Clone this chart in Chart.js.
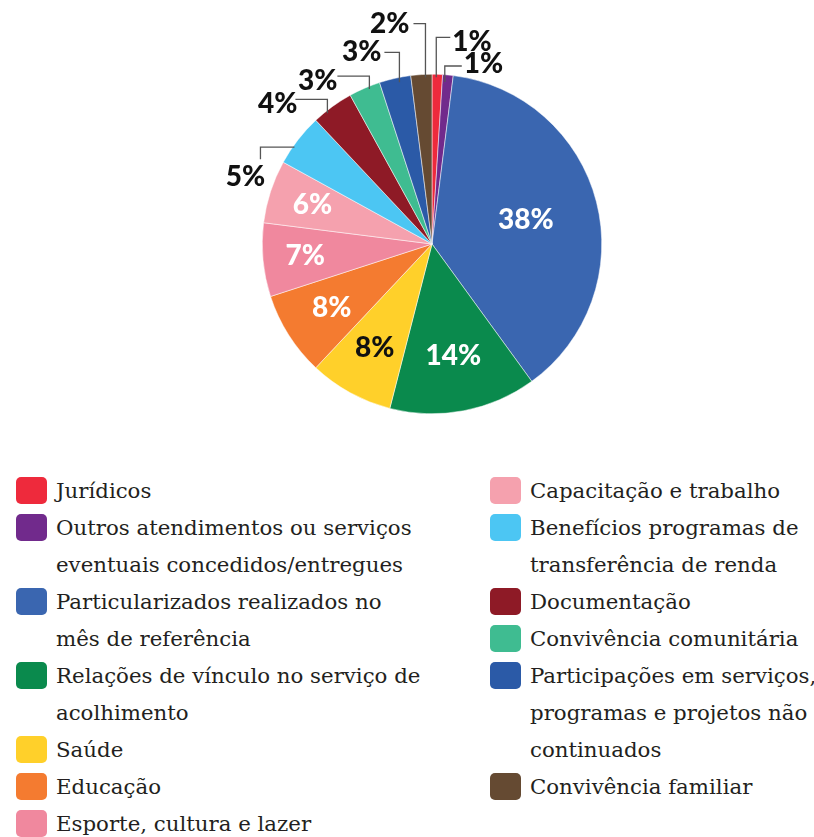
<!DOCTYPE html>
<html>
<head>
<meta charset="utf-8">
<script src="https://cdn.jsdelivr.net/npm/chart.js@4"></script>
<style>
  body { margin: 0; background: #fff; }
  #wrap { position: relative; width: 814px; height: 837px; }
  #box { position: absolute; left: 0; top: 0; width: 814px; height: 440px; }
  .col { position: absolute; top: 472px; font-family: "DejaVu Serif", serif; font-size: 21.3px; color: #231f20; }
  .item { display: flex; align-items: flex-start; }
  .sw { width: 31px; height: 27px; border-radius: 5px; margin-top: 5px; margin-right: 9px; flex: none; }
  .txt { line-height: 37px; white-space: nowrap; }
</style>
</head>
<body>
<div id="wrap">
  <div id="box"><canvas id="pie"></canvas></div>
  <div class="col" id="legLeft" style="left:16px"></div>
  <div class="col" id="legRight" style="left:490px"></div>
</div>
<script>
var labels = [
    ['Jurídicos'],
    ['Outros atendimentos ou serviços', 'eventuais concedidos/entregues'],
    ['Particularizados realizados no', 'mês de referência'],
    ['Relações de vínculo no serviço de', 'acolhimento'],
    ['Saúde'],
    ['Educação'],
    ['Esporte, cultura e lazer'],
    ['Capacitação e trabalho'],
    ['Benefícios programas de', 'transferência de renda'],
    ['Documentação'],
    ['Convivência comunitária'],
    ['Participações em serviços,', 'programas e projetos não', 'continuados'],
    ['Convivência familiar']
];
var values = [1, 1, 38, 14, 8, 8, 7, 6, 5, 4, 3, 3, 2];
var colors = ['#EE2A3C', '#712A8C', '#3A66B0', '#0A8A4D', '#FFD02A', '#F47B30', '#F0889E',
    '#F5A1AE', '#4CC6F3', '#8E1A26', '#3FBC91', '#2B5AA7', '#654A32'];

// legend, first 7 on the left, rest on the right
function buildLegend() {
    var left = document.getElementById('legLeft');
    var right = document.getElementById('legRight');
    for (var i = 0; i < labels.length; i++) {
        var item = document.createElement('div');
        item.className = 'item';
        var sw = document.createElement('div');
        sw.className = 'sw';
        sw.style.background = colors[i];
        var txt = document.createElement('div');
        txt.className = 'txt';
        txt.innerHTML = labels[i].join('<br>');
        item.appendChild(sw);
        item.appendChild(txt);
        if (i < 7) left.appendChild(item); else right.appendChild(item);
    }
}
buildLegend();

// inside labels: radius factor + text colour; outside: leader path
var inside = {
    2: [0.57, '#fff'], 3: [0.67, '#fff'], 4: [0.7, '#111'],
    5: [0.7, '#fff'], 6: [0.75, '#fff'], 7: [0.74, '#fff']
};
var outside = {
    0: { o: [-1, 1], path: [[0, -40], [14, 0]], t: [2, 5], align: 'left' },
    1: { o: [-3, 5], path: [[0, -16], [17, 0]], t: [2, -2], align: 'left' },
    8: { o: [-5, 6], path: [[-34, 0], [0, 12]], t: [-15, 18], align: 'center' },
    9: { o: [-6, 5], path: [[0, -14], [-32, 0]], t: [2, 5], align: 'right' },
    10: { o: [4, -1], path: [[0, -13], [-32, 0]], t: [0, 5], align: 'right' },
    11: { o: [4, 2], path: [[0, -30], [-15, 0]], t: [-3, 0], align: 'right' },
    12: { o: [4, 1], path: [[0, -54], [-12, 0]], t: [-4, 0], align: 'right' }
};

var pieLabels = {
    id: 'pieLabels',
    afterDatasetsDraw: function (chart) {
        var c = chart.ctx;
        var meta = chart.getDatasetMeta(0);
        c.save();
        c.font = '900 28px Lato';
        c.textBaseline = 'middle';
        meta.data.forEach(function (arc, i) {
            var mid = (arc.startAngle + arc.endAngle) / 2;
            var r = arc.outerRadius;
            var txt = values[i] + '%';
            if (inside[i]) {
                c.fillStyle = inside[i][1];
                c.textAlign = 'center';
                c.fillText(txt, arc.x + Math.cos(mid) * r * inside[i][0], arc.y + Math.sin(mid) * r * inside[i][0]);
            } else if (outside[i]) {
                var o = outside[i];
                var x = arc.x + Math.cos(mid) * (r - 2) + o.o[0];
                var y = arc.y + Math.sin(mid) * (r - 2) + o.o[1];
                c.strokeStyle = '#555';
                c.lineWidth = 1.3;
                c.beginPath();
                c.moveTo(x, y);
                o.path.forEach(function (p) {
                    x += p[0];
                    y += p[1];
                    c.lineTo(x, y);
                });
                c.stroke();
                c.fillStyle = '#111';
                c.textAlign = o.align;
                c.fillText(txt, x + o.t[0], y + o.t[1]);
            }
        });
        c.restore();
    }
};

new Chart(document.getElementById('pie'), {
    type: 'pie',
    data: {
        labels: labels,
        datasets: [{
            data: values,
            backgroundColor: colors,
            borderColor: '#fff',
            borderWidth: 0.5
        }]
    },
    options: {
        responsive: true,
        maintainAspectRatio: false,
        animation: false,
        layout: { padding: { left: 262, right: 212, top: 74, bottom: 26 } },
        plugins: {
            legend: { display: false },
            tooltip: { enabled: false }
        }
    },
    plugins: [pieLabels]
});
</script>
</body>
</html>
